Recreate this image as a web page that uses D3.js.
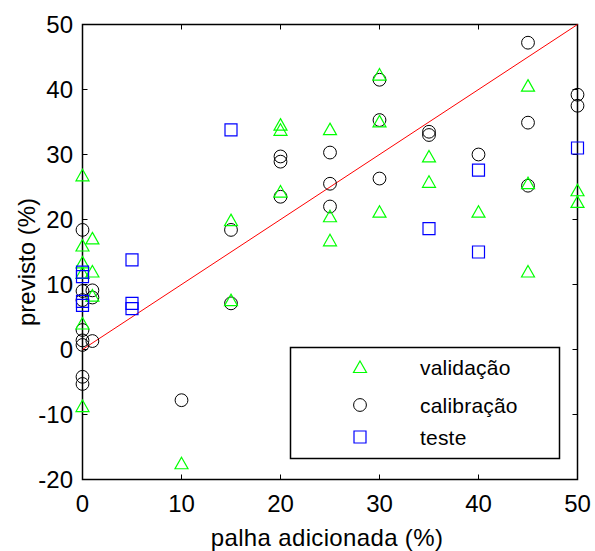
<!DOCTYPE html>
<html><head><meta charset="utf-8">
<script src="https://cdn.jsdelivr.net/npm/d3@7"></script>
<style>body{margin:0;background:#fff}svg{display:block}text{font-family:"Liberation Sans",Arial,sans-serif;fill:#000}</style>
</head><body>
<svg id="c" width="595" height="551"></svg>
<script>
// validação (triangles)
const valX = [0,0,0,0,0,0, 1,1,1, 10, 15,15, 20,20,20, 25,25,25, 30,30,30, 35,35, 40, 45,45,45, 50,50];
const valY = [26.8,16.0,13.4,11.8,4.0,-8.7, 17.1,12.0,8.3, -17.5, 19.9,7.6, 34.6,33.8,24.3, 33.9,20.5,16.8, 42.3,35.1,21.2, 29.7,25.8, 21.2, 40.6,25.6,12.0, 24.5,22.7];
// calibração (circles)
const calX = [0,0,0,0,0,0,0,0, 1,1,1, 10, 15,15, 20,20,20, 25,25,25, 30,30,30, 35,35, 40, 45,45,45, 50,50];
const calY = [18.4,9.0,7.6,3.0,1.4,0.7,-4.2,-5.3, 9.1,8.0,1.3, -7.8, 18.4,7.1, 29.7,28.9,23.5, 30.3,25.5,22.0, 41.5,35.3,26.3, 33.5,33.0, 30.0, 47.2,34.9,25.2, 39.2,37.5];
// teste (squares)
const tesX = [0,0,0,0, 5,5,5, 15, 35, 40,40, 50];
const tesY = [11.9,11.2,7.4,6.8, 13.8,7.1,6.3, 33.8, 18.6, 27.6,15.0, 31.0];
const xTicks = [0,10,20,30,40,50];
const yTicks = [-20,-10,0,10,20,30,40,50];
const lineX = [0,50];
const legendLabels = ["validação","calibração","teste"];

const svg = d3.select("#c");
const L=82.5, R=577.5, T=24.5, B=479.5;
const x = d3.scaleLinear().domain([0,50]).range([L,R]);
const y = d3.scaleLinear().domain([-20,50]).range([B,T]);

const g = svg.append("g");
const tk = 5;
xTicks.forEach(v=>{
  g.append("line").attr("x1",x(v)).attr("x2",x(v)).attr("y1",B).attr("y2",B-tk).attr("stroke","#000");
  g.append("line").attr("x1",x(v)).attr("x2",x(v)).attr("y1",T).attr("y2",T+tk).attr("stroke","#000");
  g.append("text").attr("x",x(v)).attr("y",511.5).attr("text-anchor","middle").attr("font-size",24).text(v);
});
yTicks.forEach(v=>{
  g.append("line").attr("x1",L).attr("x2",L+tk).attr("y1",y(v)).attr("y2",y(v)).attr("stroke","#000");
  g.append("line").attr("x1",R).attr("x2",R-tk).attr("y1",y(v)).attr("y2",y(v)).attr("stroke","#000");
  g.append("text").attr("x",73).attr("y",y(v)+8.5).attr("text-anchor","end").attr("font-size",24).text(v);
});
g.append("rect").attr("x",L).attr("y",T).attr("width",R-L).attr("height",B-T).attr("fill","none").attr("stroke","#000").attr("stroke-width",1.5);

g.append("line").attr("x1",x(lineX[0])).attr("y1",y(lineX[0])).attr("x2",x(lineX[1])).attr("y2",y(lineX[1])).attr("stroke","#ff0000").attr("stroke-width",1);

const tri = (cx,cy)=>`M${cx},${cy-6}L${cx+6.5},${cy+5.5}L${cx-6.5},${cy+5.5}Z`;
const sq = (cx,cy)=>`M${cx-6},${cy-6}h12v12h-12Z`;

g.selectAll(".cal").data(calX).enter().append("circle")
  .attr("cx",(d)=>x(d)).attr("cy",(d,i)=>y(calY[i])).attr("r",6.4)
  .attr("fill","none").attr("stroke","#000").attr("stroke-width",1);
g.selectAll(".val").data(valX).enter().append("path")
  .attr("d",(d,i)=>tri(x(d),y(valY[i]))).attr("fill","none").attr("stroke","#00ff00").attr("stroke-width",1.2);
g.selectAll(".tes").data(tesX).enter().append("path")
  .attr("d",(d,i)=>sq(x(d),y(tesY[i]))).attr("fill","none").attr("stroke","#0000ff").attr("stroke-width",1.2);

g.append("rect").attr("x",290.5).attr("y",347.5).attr("width",269).attr("height",111).attr("fill","#fff").attr("stroke","#000").attr("stroke-width",1.5);
const ly = [367,405,437];
g.append("path").attr("d",tri(360,ly[0])).attr("fill","none").attr("stroke","#00ff00").attr("stroke-width",1.2);
g.append("circle").attr("cx",360).attr("cy",ly[1]).attr("r",6.4).attr("fill","none").attr("stroke","#000");
g.append("path").attr("d",sq(360,ly[2])).attr("fill","none").attr("stroke","#0000ff").attr("stroke-width",1.2);
legendLabels.forEach((t,i)=>{
  g.append("text").attr("x",420).attr("y",ly[i]+8).attr("font-size",21).attr("letter-spacing",0.2).text(t);
});

g.append("text").attr("x",(L+R)/2-3).attr("y",546).attr("text-anchor","middle").attr("font-size",24).attr("letter-spacing",0.35).text("palha adicionada (%)");
g.append("text").attr("transform","translate(35,"+((T+B)/2+10)+") rotate(-90)").attr("text-anchor","middle").attr("font-size",24).text("previsto (%)");
</script>
</body></html>
